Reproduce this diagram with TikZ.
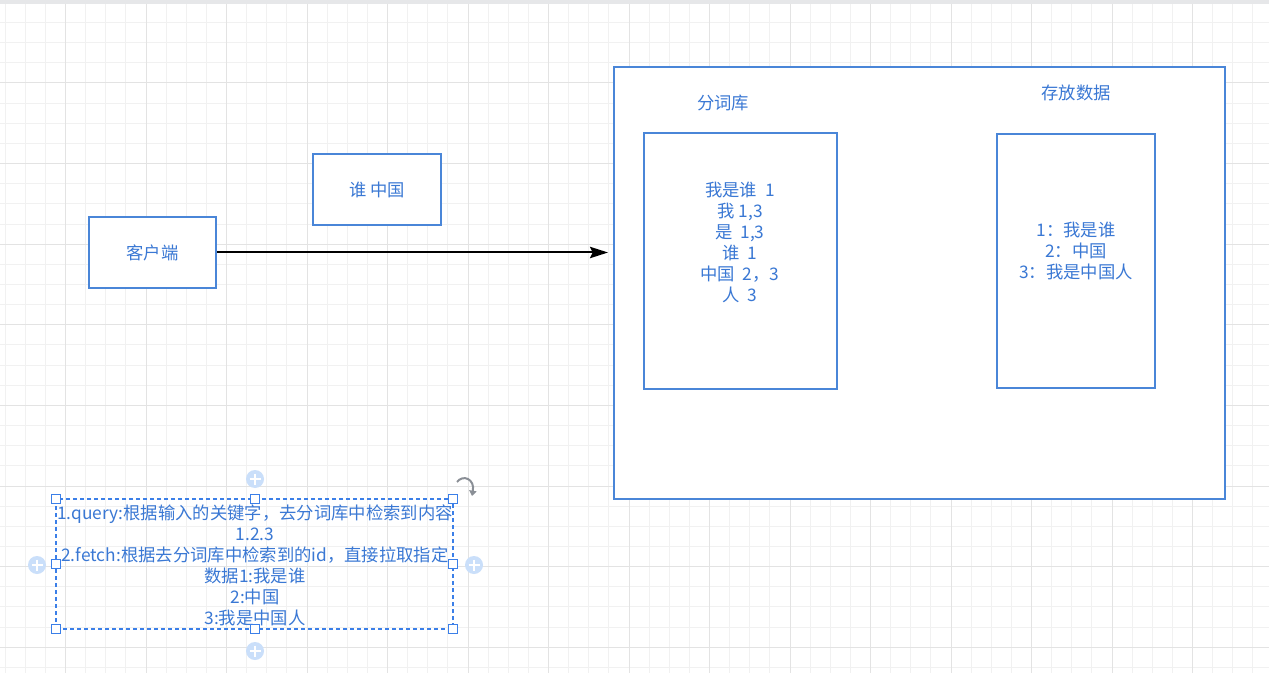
\documentclass[tikz,border=0pt]{standalone}
\usepackage{fontspec}
\setmainfont{Noto Sans CJK SC}
\usetikzlibrary{arrows.meta}
\definecolor{bline}{HTML}{4A86D8}
\definecolor{btext}{HTML}{3A78D4}
\definecolor{gminor}{HTML}{F1F1F1}
\definecolor{gmajor}{HTML}{E3E3E3}
\definecolor{bandc}{HTML}{E6E7E9}
\definecolor{plusc}{HTML}{CADFFA}
\definecolor{handlec}{HTML}{3B7FE8}
\definecolor{rotc}{HTML}{8A8F96}
\begin{document}
\begin{tikzpicture}[x=0.75pt,y=-0.75pt,
  box/.style={draw=bline,line width=1.5pt,fill=white,inner sep=0pt},
  txt/.style={text=btext,font=\fontsize{13}{15.75}\selectfont,align=center,inner sep=0pt},
  handle/.style={draw=handlec,line width=1pt,fill=white,minimum size=6.5pt,inner sep=0pt},
  plusdot/.style={fill=plusc,circle,minimum size=13.5pt,inner sep=0pt},
  minorline/.style={gminor,line width=0.75pt},
  majorline/.style={gmajor,line width=0.75pt},
]
\fill[white] (0,0) rectangle (1269,673);
\useasboundingbox (0,0) rectangle (1269,673);
% grid
\foreach \k in {0,...,62} {
  \pgfmathsetmacro\xx{5.125+20.125*\k}
  \draw[minorline] (\xx,4) -- (\xx,673);
}
\foreach \k in {0,...,33} {
  \pgfmathsetmacro\yy{2.4+20.15*\k}
  \draw[minorline] (0,\yy) -- (1269,\yy);
}
\foreach \k in {3,7,...,63} {
  \pgfmathsetmacro\xx{5.125+20.125*\k}
  \draw[majorline] (\xx,4) -- (\xx,673);
}
\foreach \k in {4,8,...,32} {
  \pgfmathsetmacro\yy{2.4+20.15*\k}
  \draw[majorline] (0,\yy) -- (1269,\yy);
}
\fill[bandc] (0,0) rectangle (1269,4);

% boxes
\node[box,minimum width=95.25pt,minimum height=53.25pt] (client) at (152.5,252.5) {};
\node[txt] (clienttxt) at (152.5,253) {客户端};
\node[box,minimum width=96pt,minimum height=53.25pt] (query) at (377,189.5) {};
\node[txt] (querytxt) at (377,189.5) {谁 中国};

\node[box,minimum width=458.25pt,minimum height=324pt] (outer) at (919.5,283) {};
\node[txt] (lab1) at (723,103) {分词库};
\node[txt] (lab2) at (1076,93) {存放数据};
\node[box,minimum width=144.75pt,minimum height=192pt] (dict) at (740.5,261) {};
\node[txt] (dicttxt) at (740,242) {我是谁\ \ 1\\我 1,3\\是\ \ 1,3\\谁\ \ 1\\中国\ \ 2，3\\人\ \ 3};
\node[box,minimum width=118.5pt,minimum height=190.5pt] (store) at (1076,261) {};
\node[txt] (storetxt) at (1076,251) {1：我是谁\\2：中国\\3：我是中国人};

% connector
\coordinate (tip) at (608,252.5);
\draw[line width=1.5pt,-{Stealth[length=13.5pt,width=8.5pt,inset=2pt]}] (client.east) -- (tip);

% selected text box
\node[draw=handlec,dash pattern=on 3pt off 2.25pt,line width=1pt,minimum width=297.75pt,minimum height=97.5pt,inner sep=0pt] (sel) at (254.5,564) {};
\node[txt] (seltxt) at (255,565.5) {1.query:根据输入的关键字，去分词库中检索到内容\\1.2.3\\2.fetch:根据去分词库中检索到的id，直接拉取指定\\数据1:我是谁\\2:中国\\3:我是中国人};
\foreach \n/\p in {hnw/{(56,499)},hn/{(255,499)},hne/{(453,499)},hw/{(56,564)},he/{(453,564)},hsw/{(56,629)},hs/{(255,629)},hse/{(453,629)}} {
  \node[handle] (\n) at \p {};
}
\foreach \n/\p in {pn/{(255,479)},ps/{(255,651)},pw/{(37,565)},pe/{(474,565)}} {
  \node[plusdot] (\n) at \p {};
  \draw[white,line width=1.5pt] (\n.center) ++(-5.5,0) -- ++(11,0) (\n.center) ++(0,-5.5) -- ++(0,11);
}
\draw[rotc,line width=1.5pt,-{Triangle[length=4pt,width=5.5pt]}] (457,482) .. controls (463,474) and (475,479) .. (472,496);
\end{tikzpicture}
\end{document}
